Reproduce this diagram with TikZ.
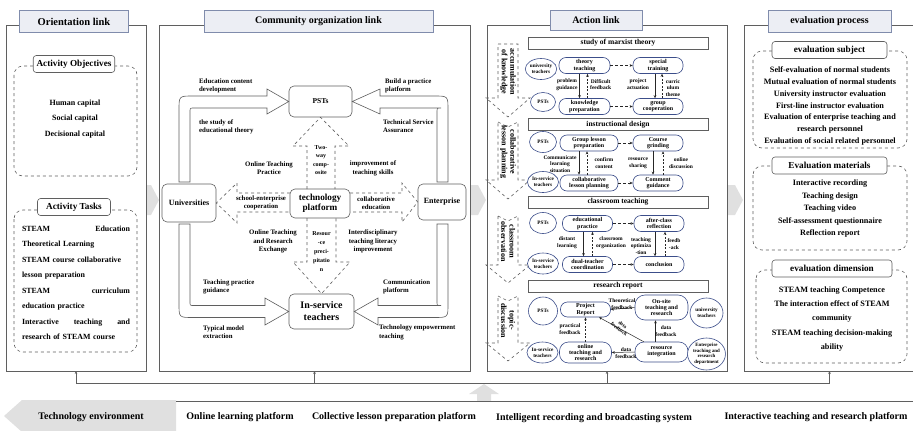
\documentclass[tikz,border=0pt]{standalone}
\usepackage{fontspec}
\setmainfont{Liberation Serif}
\usepackage{xcolor}
\definecolor{linkgray}{RGB}{95,95,95}
\definecolor{linkblue}{RGB}{60,78,138}
\definecolor{titlefill}{RGB}{236,238,244}
\definecolor{titleedge}{RGB}{128,140,172}
\definecolor{bridgegray}{RGB}{224,224,224}
\usetikzlibrary{arrows.meta, positioning, calc, shapes.geometric}

\begin{document}
\begin{tikzpicture}[>=Stealth, x=1pt, y=-1pt, font=\bfseries,
    frame/.style={rectangle, draw=linkgray, line width=0.7pt, fill=white, inner sep=0pt, outer sep=0pt},
    title/.style={rectangle, draw=titleedge, fill=titlefill, line width=0.7pt, minimum height=22pt, font=\fontsize{10}{12}\selectfont\bfseries},
    group/.style={draw=linkgray, dashed, rounded corners=9pt, line width=0.6pt},
    tab/.style={rectangle, rounded corners=3pt, draw=linkgray, fill=white, line width=0.6pt, minimum height=17pt, font=\fontsize{9.2}{11}\selectfont\bfseries},
    body/.style={align=center, inner sep=0pt},
    actor/.style={rectangle, rounded corners=5pt, draw=linkgray, fill=white, line width=0.6pt, align=center, inner sep=1pt},
    note/.style={align=left, inner sep=0pt, font=\fontsize{6.8}{8.3}\selectfont\bfseries},
    block/.style={draw=linkgray, fill=white, line width=0.6pt},
    dblock/.style={draw=linkgray, dashed, line width=0.6pt},
    bridge/.style={fill=bridgegray, draw=none},
    stage/.style={rectangle, draw=linkgray, fill=white, line width=0.6pt, minimum width=180pt, minimum height=12pt, inner sep=0pt, font=\fontsize{7.5}{9}\selectfont\bfseries},
    pill/.style={rectangle, rounded corners=7pt, draw=linkblue, fill=white, line width=0.6pt, minimum width=50pt, minimum height=16pt, inner sep=0pt, align=center, font=\fontsize{6}{6.4}\selectfont\bfseries},
    who/.style={ellipse, draw=linkblue, fill=white, line width=0.6pt, minimum width=27pt, minimum height=21pt, inner sep=0pt, align=center, font=\fontsize{5.2}{6}\selectfont\bfseries},
    tiny/.style={align=center, inner sep=0pt, font=\fontsize{5.5}{6.8}\selectfont\bfseries},
    flow/.style={->, >={Stealth[length=3pt, width=2.6pt]}, line width=0.5pt, black!85},
    back/.style={flow, dashed, dash pattern=on 2pt off 1.5pt},
    side/.style={flow, dashed, dash pattern=on 3pt off 2pt},
    bus/.style={draw=linkgray, line width=0.6pt},
    band/.style={inner sep=0pt, font=\fontsize{10}{12}\selectfont\bfseries}
]
\useasboundingbox (0,0) rectangle (913,431);

% === Grey arrows between the links ===
\foreach \x in {144, 471, 728} {
    \fill[bridge] (\x,185) -- (\x+7,185) -- (\x+15,200) -- (\x+7,215) -- (\x,215) -- cycle;
}

% === Frames ===
\node[frame, minimum width=140pt, minimum height=346pt] (orientframe) at (76,198) {};
\node[frame, minimum width=311pt, minimum height=346pt] (communityframe) at (314.5,198) {};
\node[frame, minimum width=240pt, minimum height=346pt] (actionframe) at (607,198) {};
\node[frame, minimum width=171pt, minimum height=346pt] (evalframe) at (829.5,198) {};

% === Orientation link ===
\node[title, minimum width=109pt, font=\fontsize{10.5}{12}\selectfont\bfseries] (orient) at (74,21.5) {Orientation link};

\draw[group] (14,66) rectangle (137,176);
\node[tab, minimum width=81pt] (objtab) at (74,64) {Activity Objectives};
\node[body, font=\fontsize{8}{15.5}\selectfont\bfseries] (objtext) at (75,119) {Human capital\\Social capital\\Decisional capital};

\draw[group] (14,210) rectangle (137,352);
\node[tab, minimum width=73pt] (tasktab) at (74,207) {Activity Tasks};
\node[body, text width=108pt, align=left, font=\fontsize{7.9}{15.5}\selectfont\bfseries] (tasktext) at (76,283) {STEAM\hfill Education\\Theoretical Learning\\STEAM course collaborative\\lesson preparation\\STEAM\hfill curriculum\\education practice\\Interactive\hfill teaching\hfill and\\research of STEAM course};

% === Community organization link ===
\node[title, minimum width=229pt] (community) at (318.5,21.5) {Community organization link};

\node[actor, minimum width=63pt, minimum height=31pt, font=\fontsize{7.5}{9}\selectfont\bfseries] (psts) at (320.5,101.5) {PSTs};
\node[actor, minimum width=54pt, minimum height=38pt, font=\fontsize{8}{10}\selectfont\bfseries] (univ) at (189,203) {Universities};
\node[actor, minimum width=48pt, minimum height=36pt, font=\fontsize{8}{10}\selectfont\bfseries] (firm) at (442,202) {Enterprise};
\node[actor, minimum width=60pt, minimum height=29pt, font=\fontsize{9.2}{10.5}\selectfont\bfseries] (tech) at (320,203.5) {technology\\platform};
\node[actor, minimum width=65pt, minimum height=35pt, font=\fontsize{10}{12}\selectfont\bfseries] (inservice) at (321.5,311.5) {In-service\\teachers};

% big arrows towards PSTs and in-service teachers
\draw[block] (179,182) -- (179,110) .. controls (179,96) .. (193,96) -- (267,96) -- (267,89) -- (psts.west) -- (267,114) -- (267,108) -- (194,108) .. controls (190,108) .. (190,112) -- (190,182) -- cycle;
\draw[block] (448,182) -- (448,110) .. controls (448,96) .. (434,96) -- (380,96) -- (380,89) -- (psts.east) -- (380,114) -- (380,108) -- (441,108) .. controls (437,108) .. (437,112) -- (437,182) -- cycle;
\draw[block] (179,224) -- (179,304) .. controls (179,317.5) .. (193,317.5) -- (265,317.5) -- (265,325) -- (inservice.west) -- (265,298) -- (265,305.5) -- (194,305.5) .. controls (190,305.5) .. (190,302) -- (190,224) -- cycle;
\draw[block] (448,224) -- (448,304) .. controls (448,317.5) .. (434,317.5) -- (378,317.5) -- (378,325) -- (inservice.east) -- (378,298) -- (378,305.5) -- (441,305.5) .. controls (437,305.5) .. (437,302) -- (437,224) -- cycle;

% dashed arrows out of the technology platform
\draw[dblock] (307,189) -- (307,146) -- (293,146) -- (psts.south) -- (349,146) -- (335,146) -- (335,189);
\draw[dblock] (307,218) -- (307,262) -- (293,262) -- (inservice.north) -- (350,262) -- (336,262) -- (336,218);
\draw[dblock] (290,193) -- (237,193) -- (237,183) -- (univ.east) -- (237,223) -- (237,212) -- (290,212);
\draw[dblock] (350,193) -- (402,193) -- (402,183) -- (firm.west) -- (402,222) -- (402,212) -- (350,212);

\node[tiny, font=\fontsize{6}{8.3}\selectfont\bfseries] (twoway) at (321,160) {Two-\\way\\comp-\\osite};
\node[tiny, font=\fontsize{6}{8.8}\selectfont\bfseries] (deposit) at (321.5,251.5) {Resour\\-ce\\preci-\\pitatio\\n};
\node[note, align=center] (schoolent) at (261,203) {school-enterprise\\cooperation};
\node[note, align=center] (collabedu) at (376,203) {collaborative\\education};

\node[note, anchor=west] (contentdev) at (199,86) {Education content\\development};
\node[note, anchor=west] (practiceplat) at (385,86) {Build a practice\\platform};
\node[note, anchor=west] (theorystudy) at (199,126.5) {the study of\\educational theory};
\node[note, anchor=west] (serviceass) at (383,126.5) {Technical Service\\Assurance};
\node[note, align=center] (onlinepract) at (269,168.5) {Online Teaching\\Practice};
\node[note, align=center] (skills) at (373,168.5) {improvement of\\teaching skills};
\node[note, align=center] (onlineexch) at (273,241.5) {Online Teaching\\and Research\\Exchange};
\node[note, align=center] (literacy) at (373,241.5) {Interdisciplinary\\teaching literacy\\improvement};
\node[note, anchor=west] (guidance) at (203,287) {Teaching practice\\guidance};
\node[note, anchor=west] (commplat) at (383,287) {Communication\\platform};
\node[note, anchor=west] (typical) at (203,332.5) {Typical model\\extraction};
\node[note, anchor=west] (empower) at (379,332.5) {Technology empowerment\\teaching};

% === Action link ===
\node[title, minimum width=92pt, minimum height=20pt] (action) at (596,20.5) {Action link};

\foreach \ytop/\ybase/\ytip/\ynotch/\phasetext [count=\k] in {
    44/98/117/0/{accumulation\\of knowledge},
    122/180/199/5/{collaborative\\lesson planning},
    216/265/283/5/{classroom\\observation},
    296/343/361/5/{topic-\\discussion}} {
    \draw[dblock] (498,\ytop) -- (508,{\ytop+\ynotch}) -- (518,\ytop) -- (518,\ybase) -- (530,\ybase) -- (508,\ytip) -- (486,\ybase) -- (498,\ybase) -- cycle;
    \node[body, rotate=-90, font=\fontsize{8}{8.5}\selectfont\bfseries] (phase\k) at (508,{(\ytop+\ybase)/2+1}) {\phasetext};
}

% study of marxist theory
\node[stage] (marxist) at (618,43) {study of marxist theory};
\node[who, minimum width=28pt] (unit1) at (541,69) {university\\teachers};
\node[pill, minimum width=51pt] (theory) at (584.5,65.5) {theory\\teaching};
\node[pill] (special) at (658,65.5) {special\\training};
\node[who, minimum width=25pt, minimum height=19pt] (pst1) at (543,102) {PSTs};
\node[pill, minimum width=51pt] (knowprep) at (584.5,106.5) {knowledge\\preparation};
\node[pill] (groupcoop) at (658,106.5) {group\\cooperation};

\draw[side] (theory) -- (special);
\draw[side] (knowprep) -- (groupcoop);
\draw[flow] ([xshift=-5pt]theory.south) -- ([xshift=-5pt]knowprep.north);
\draw[back] ([xshift=3pt]knowprep.north) -- ([xshift=3pt]theory.south);
\draw[flow] ([xshift=-3pt]special.south) -- ([xshift=-3pt]groupcoop.north);
\draw[back] ([xshift=4pt]groupcoop.north) -- ([xshift=4pt]special.south);
\node[tiny] (probguide) at (567,84.5) {problem\\guidance};
\node[tiny, anchor=west] (difffeed) at (590,84.5) {Difficult\\feedback};
\node[tiny] (projact) at (638,84.5) {project\\actuation};
\node[tiny] (currtheme) at (673,88) {curric\\ulum\\theme};

% instructional design
\node[stage] (design) at (618,124.5) {instructional design};
\node[who] (pst2) at (543,142) {PSTs};
\node[pill, minimum width=58pt] (lessonprep) at (589,143) {Group lesson\\preparation};
\node[pill] (grinding) at (658,143) {Course\\grinding};
\node[who] (ist2) at (543,182) {In-service\\teachers};
\node[pill, minimum width=58pt] (collabplan) at (589,183) {collaborative\\lesson planning};
\node[pill] (comment) at (658,183) {Comment\\guidance};

\draw[side] (lessonprep) -- (grinding);
\draw[side] (collabplan) -- (comment);
\draw[flow] ([xshift=-10pt]lessonprep.south) -- ([xshift=-10pt]collabplan.north);
\draw[back] ([xshift=-2pt]collabplan.north) -- ([xshift=-2pt]lessonprep.south);
\draw[flow] ([xshift=-5pt]grinding.south) -- ([xshift=-5pt]comment.north);
\draw[back] ([xshift=5pt]comment.north) -- ([xshift=5pt]grinding.south);
\node[tiny] (commsit) at (560,164) {Communicate\\learning\\situation};
\node[tiny] (confirm) at (604,163) {confirm\\content};
\node[tiny] (sharing) at (638,163) {resource\\sharing};
\node[tiny] (discuss) at (681,163) {online\\discussion};

% classroom teaching
\node[stage] (teachhead) at (618,202) {classroom teaching};
\node[who] (pst3) at (543,223) {PSTs};
\node[pill] (edupract) at (587.5,223.5) {educational\\practice};
\node[pill] (reflect) at (659,223.5) {after-class\\reflection};
\node[who] (ist3) at (543,263.5) {In-service\\teachers};
\node[pill] (dualteach) at (587.5,264.5) {dual-teacher\\coordination};
\node[pill] (conclude) at (659,264.5) {conclusion};

\draw[side] (edupract) -- (reflect);
\draw[side] (dualteach) -- (conclude);
\draw[flow] ([xshift=-4pt]edupract.south) -- ([xshift=-4pt]dualteach.north);
\draw[back] ([xshift=5pt]dualteach.north) -- ([xshift=5pt]edupract.south);
\draw[flow] ([xshift=-4pt]reflect.south) -- ([xshift=-4pt]conclude.north);
\draw[back] ([xshift=6pt]conclude.north) -- ([xshift=6pt]reflect.south);
\node[tiny] (distant) at (567,243) {distant\\learning};
\node[tiny] (orgclass) at (611,243) {classroom\\organization};
\node[tiny] (optimize) at (641,246) {teaching\\optimiza\\-tion};
\node[tiny] (feedback) at (674,244) {feedb\\-ack};

% research report
\node[stage] (researchhead) at (618,286) {research report};
\node[who, minimum width=29pt, minimum height=28pt] (pst4) at (543,311) {PSTs};
\node[pill, minimum height=15pt] (report) at (585.5,309.5) {Project\\Report};
\node[pill, minimum width=53pt, minimum height=25pt, rounded corners=10pt] (onsite) at (661.5,307.5) {On-site\\teaching and\\research};
\node[who, minimum width=33pt, minimum height=30pt] (unit4) at (706.5,313) {university\\teachers};
\node[who, minimum width=29pt] (ist4) at (542.5,352.5) {In-service\\teachers};
\node[pill, minimum width=52pt, minimum height=21pt, rounded corners=9pt] (onlinetr) at (585.5,352.5) {online\\teaching and\\research};
\node[pill, minimum width=53pt, minimum height=20pt, rounded corners=9pt] (resint) at (661.5,352) {resource\\integration};
\node[who, minimum width=33pt, minimum height=32pt, font=\fontsize{4.9}{5.6}\selectfont\bfseries] (entdept) at (706.5,354) {Enterprise\\teaching and\\research\\department};

\draw[flow] (onsite.west) -- (report.east);
\draw[flow] (resint.150) -- (report.-30);
\draw[back] (onlinetr.north) -- (report.south);
\draw[flow] ([xshift=-6pt]resint.north) -- ([xshift=-6pt]onsite.south);
\draw[flow] (resint.west) -- (onlinetr.east);
\node[tiny] (theofeed) at (622,304.5) {Theoretical\\feedback};
\node[tiny] (practfeed) at (570,329) {practical\\feedback};
\node[tiny, rotate=-38, font=\fontsize{5}{5.8}\selectfont\bfseries] (datafeed1) at (621,327) {data\\feedback};
\node[tiny] (datafeed2) at (666,331) {data\\feedback};
\node[tiny] (datafeed3) at (626,353) {data\\feedback};

% === Evaluation process ===
\node[title, minimum width=123pt] (evaluation) at (829.5,21.5) {evaluation process};

\draw[group] (753,51) rectangle (907,148);
\node[tab, minimum width=115pt] (subjtab) at (829.5,50) {evaluation subject};
\node[body, font=\fontsize{8.2}{11.7}\selectfont\bfseries] (subjtext) at (830,106) {Self-evaluation of normal students\\Mutual evaluation of normal students\\University instructor evaluation\\First-line instructor evaluation\\Evaluation of enterprise teaching and\\research personnel\\Evaluation of social related personnel};

\draw[group] (753,166) rectangle (907,250);
\node[tab, minimum width=115pt] (mattab) at (829.5,165.5) {Evaluation materials};
\node[body, font=\fontsize{8.2}{12.5}\selectfont\bfseries] (mattext) at (830,209) {Interactive recording\\Teaching design\\Teaching video\\Self-assessment questionnaire\\Reflection report};

\draw[group] (756,270) rectangle (907,363);
\node[tab, minimum width=120pt] (dimtab) at (832,268.5) {evaluation dimension};
\node[body, font=\fontsize{8.2}{14.3}\selectfont\bfseries] (dimtext) at (832,319) {STEAM teaching Competence\\The interaction effect of STEAM\\community\\STEAM teaching decision-making\\ability};

% === Technology environment ===
\coordinate (busL) at (76,383);
\coordinate (busR) at (829.5,383);
\draw[bus] (busL) -- (busR);
\foreach \f in {orientframe, communityframe, actionframe, evalframe} {
    \draw[bus, ->, >={Stealth[length=3pt, width=2.6pt]}] (\f.south |- busL) -- (\f.south);
}
\fill[bridge] (477,401) -- (477,394) -- (469,394) -- (484,384) -- (499,394) -- (491,394) -- (491,401) -- cycle;
\fill[bridge] (176,400) -- (22,400) -- (4,416) -- (22,432) -- (176,432) -- cycle;
\draw[bus] (176,401) -- (913,401);

\node[band] (techenv) at (91,417) {Technology environment};
\node[band] (onlineplat) at (240,417) {Online learning platform};
\node[band] (lessonplat) at (394,417) {Collective lesson preparation platform};
\node[band] (recording) at (594,418) {Intelligent recording and broadcasting system};
\node[band] (interplat) at (816,417) {Interactive teaching and research platform};

\end{tikzpicture}
\end{document}
